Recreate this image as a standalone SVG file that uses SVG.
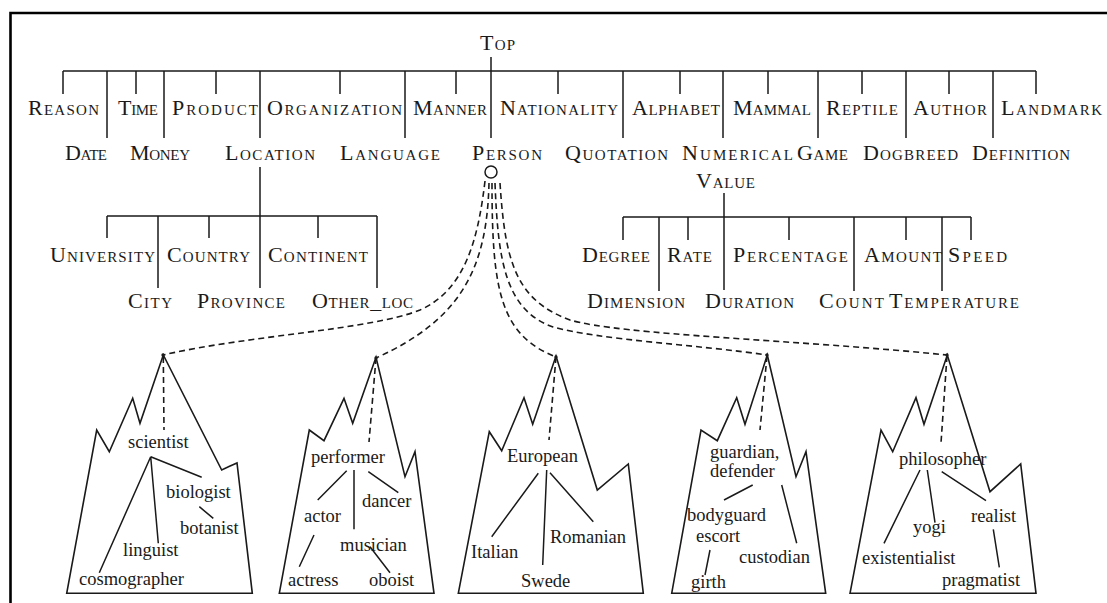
<svg xmlns="http://www.w3.org/2000/svg" width="1107" height="603" viewBox="0 0 1107 603">
<defs>
<style>
.sc{font-family:"Liberation Serif",serif;font-size:22px;font-variant:small-caps;fill:#1a1a1a}
.lc{font-family:"Liberation Serif",serif;font-size:18.5px;fill:#1a1a1a}
.ln{stroke:#1a1a1a;stroke-width:1.5;fill:none}
.dash{stroke:#1a1a1a;stroke-width:1.6;fill:none;stroke-dasharray:6 4}
.mtn{stroke:#1a1a1a;stroke-width:1.6;fill:none;stroke-linejoin:miter}
.frame{stroke:#000;stroke-width:2.6;fill:none}
</style>
<marker id="dot" viewBox="-3 -3 6 6" markerWidth="4" markerHeight="4" markerUnits="userSpaceOnUse"><circle r="2.5" fill="#1a1a1a"/></marker>
</defs>
<rect width="1107" height="603" fill="#fff"/>
<path class="frame" d="M10.5,603 V13 H1107"/>

<g id="connectors">
<path class="ln" d="M491,57 V71 M63,71 H1036
M63,71 V94 M136,71 V94 M216,71 V94 M340,71 V94 M456,71 V94 M558,71 V94 M680,71 V94 M768,71 V94 M862,71 V94 M949,71 V94 M1036,71 V94
M107,71 V138 M164,71 V138 M260,71 V138 M405,71 V138 M491,71 V138 M623,71 V138 M723,71 V138 M818,71 V138 M906,71 V138 M993,71 V138"/>
<path class="ln" d="M260,167 V288 M107,216 H377 M107,216 V238 M209,216 V238 M318,216 V238 M158,216 V288 M377,216 V288"/>
<path class="ln" d="M724,193 V290 M623,217 H971 M623,217 V240 M688,217 V240 M789,217 V240 M906,217 V240 M971,217 V240 M659,217 V291 M854,217 V291 M942,217 V291"/>
<circle class="ln" cx="491" cy="172" r="6"/>
<path class="dash" marker-end="url(#dot)" d="M485,181 C478,240 465,290 420,310 C370,330 250,335 163,355"/>
<path class="dash" marker-end="url(#dot)" d="M489,183 C487,270 460,320 376,358"/>
<path class="dash" marker-end="url(#dot)" d="M492,183 C492,290 500,335 556,357"/>
<path class="dash" marker-end="url(#dot)" d="M495,183 C498,260 505,310 553,327 C600,340 700,345 767,355"/>
<path class="dash" marker-end="url(#dot)" d="M500,183 C505,260 515,300 570,320 C620,335 800,340 947,355"/>
<path class="dash" d="M163.3,357 L164,430 M376,358 L369,442 M556,357 L549,440 M767,356 L760,430 M947,356 L941,443"/>
<path class="ln" d="M150.7,456.7 L201.7,477.3 M150.7,456.7 L158.3,543.3 M150.7,456.7 L99.3,572.7 M199.3,506.7 L213.3,518.3"/>
<path class="ln" d="M346.7,470.7 L317.7,500 M354,470 L354,529.3 M368.3,471.7 L398.3,492.7 M314,535 L299.3,566.7 M370,546.7 L390,572.7"/>
<path class="ln" d="M538.3,473.3 L491.7,536.7 M546.7,470 L542.7,565 M550,472.7 L593.3,521.7"/>
<path class="ln" d="M752.7,485 L724,500 M781.7,485 L796.7,543.3 M710,550 L705,575"/>
<path class="ln" d="M920,470 L884,543.3 M927.3,470 L935,522.7 M941.7,471.7 L986,500.7 M993.3,529.3 L999.3,567.3"/>
</g>

<g id="top"><text class="sc" x="480" y="50" textLength="35" lengthAdjust="spacing">Top</text></g>
<g id="reason"><text class="sc" x="28" y="115" textLength="71" lengthAdjust="spacing">Reason</text></g>
<g id="time"><text class="sc" x="118" y="115" textLength="40" lengthAdjust="spacing">Time</text></g>
<g id="product"><text class="sc" x="172" y="115" textLength="86" lengthAdjust="spacing">Product</text></g>
<g id="organization"><text class="sc" x="267" y="115" textLength="135" lengthAdjust="spacing">Organization</text></g>
<g id="manner"><text class="sc" x="413" y="115" textLength="74" lengthAdjust="spacing">Manner</text></g>
<g id="nationality"><text class="sc" x="500" y="115" textLength="118" lengthAdjust="spacing">Nationality</text></g>
<g id="alphabet"><text class="sc" x="632" y="115" textLength="88" lengthAdjust="spacing">Alphabet</text></g>
<g id="mammal"><text class="sc" x="733" y="115" textLength="78" lengthAdjust="spacing">Mammal</text></g>
<g id="reptile"><text class="sc" x="826" y="115" textLength="72" lengthAdjust="spacing">Reptile</text></g>
<g id="author"><text class="sc" x="913" y="115" textLength="74" lengthAdjust="spacing">Author</text></g>
<g id="landmark"><text class="sc" x="1001" y="115" textLength="101" lengthAdjust="spacing">Landmark</text></g>

<g id="date"><text class="sc" x="65" y="160" textLength="42" lengthAdjust="spacing">Date</text></g>
<g id="money"><text class="sc" x="130" y="160" textLength="60" lengthAdjust="spacing">Money</text></g>
<g id="location"><text class="sc" x="225" y="160" textLength="90" lengthAdjust="spacing">Location</text></g>
<g id="language"><text class="sc" x="340" y="160" textLength="100" lengthAdjust="spacing">Language</text></g>
<g id="person"><text class="sc" x="472" y="160" textLength="70" lengthAdjust="spacing">Person</text></g>
<g id="quotation"><text class="sc" x="565" y="160" textLength="103" lengthAdjust="spacing">Quotation</text></g>
<g id="numerical-value"><text class="sc" x="682" y="160" textLength="111" lengthAdjust="spacing">Numerical</text><text class="sc" x="696" y="188" textLength="59" lengthAdjust="spacing">Value</text></g>
<g id="game"><text class="sc" x="797" y="160" textLength="51" lengthAdjust="spacing">Game</text></g>
<g id="dogbreed"><text class="sc" x="863" y="160" textLength="95" lengthAdjust="spacing">Dogbreed</text></g>
<g id="definition"><text class="sc" x="972" y="160" textLength="98" lengthAdjust="spacing">Definition</text></g>

<g id="university"><text class="sc" x="50" y="262" textLength="105" lengthAdjust="spacing">University</text></g>
<g id="country"><text class="sc" x="167" y="262" textLength="83" lengthAdjust="spacing">Country</text></g>
<g id="continent"><text class="sc" x="268" y="262" textLength="100" lengthAdjust="spacing">Continent</text></g>
<g id="city"><text class="sc" x="128" y="308" textLength="44" lengthAdjust="spacing">City</text></g>
<g id="province"><text class="sc" x="197" y="308" textLength="88" lengthAdjust="spacing">Province</text></g>
<g id="other-loc"><text class="sc" x="312" y="308" textLength="101" lengthAdjust="spacing">Other_loc</text></g>

<g id="degree"><text class="sc" x="582" y="262" textLength="68" lengthAdjust="spacing">Degree</text></g>
<g id="rate"><text class="sc" x="667" y="262" textLength="45" lengthAdjust="spacing">Rate</text></g>
<g id="percentage"><text class="sc" x="733" y="262" textLength="115" lengthAdjust="spacing">Percentage</text></g>
<g id="amount"><text class="sc" x="864" y="262" textLength="78" lengthAdjust="spacing">Amount</text></g>
<g id="speed"><text class="sc" x="948" y="262" textLength="59" lengthAdjust="spacing">Speed</text></g>
<g id="dimension"><text class="sc" x="587" y="308" textLength="98" lengthAdjust="spacing">Dimension</text></g>
<g id="duration"><text class="sc" x="705" y="308" textLength="89" lengthAdjust="spacing">Duration</text></g>
<g id="count"><text class="sc" x="819" y="308" textLength="65" lengthAdjust="spacing">Count</text></g>
<g id="temperature"><text class="sc" x="889" y="308" textLength="130" lengthAdjust="spacing">Temperature</text></g>

<g id="mountain-scientist">
<polygon class="mtn" points="66.7,593.3 96.7,430 109.3,451.7 132.7,398.3 140,423.3 163.3,355 221.7,470 229,466.5 237,463 252.3,593.3"/>
<text class="lc" x="128" y="448">scientist</text>
<text class="lc" x="166" y="498">biologist</text>
<text class="lc" x="180" y="534">botanist</text>
<text class="lc" x="123" y="556">linguist</text>
<text class="lc" x="79" y="585">cosmographer</text>
</g>
<g id="mountain-performer">
<polygon class="mtn" points="279.3,593.3 309.3,430 324,440.7 344,398.3 352.7,423.3 376,357.3 405,476.7 415,451.7 434,593.3"/>
<text class="lc" x="311" y="462.7">performer</text>
<text class="lc" x="362" y="506.7">dancer</text>
<text class="lc" x="304" y="521.7">actor</text>
<text class="lc" x="340" y="551">musician</text>
<text class="lc" x="288" y="586">actress</text>
<text class="lc" x="369" y="586">oboist</text>
</g>
<g id="mountain-european">
<polygon class="mtn" points="458.3,593.3 489.3,431.7 501.7,450.7 524,397.7 532.7,424.3 556,356 597.3,490 628.3,464 643.3,593.3"/>
<text class="lc" x="507" y="461.7">European</text>
<text class="lc" x="471" y="558.3">Italian</text>
<text class="lc" x="550" y="543.3">Romanian</text>
<text class="lc" x="521" y="586.7">Swede</text>
</g>
<g id="mountain-guardian">
<polygon class="mtn" points="671.7,593.3 701,430 717.3,440.7 736.7,397.7 745,424.3 767.3,355 796,476.7 806,451.7 825.7,593.3"/>
<text class="lc" x="710" y="458.3">guardian,</text>
<text class="lc" x="710" y="477.3">defender</text>
<text class="lc" x="687" y="520.7">bodyguard</text>
<text class="lc" x="696" y="542.3">escort</text>
<text class="lc" x="739" y="563.3">custodian</text>
<text class="lc" x="691" y="588.3">girth</text>
</g>
<g id="mountain-philosopher">
<polygon class="mtn" points="850,593.3 881,430 892.7,451.7 916,397.7 924,424.3 947.3,355 990,491.7 1020.7,464 1036,593.3"/>
<text class="lc" x="899" y="465">philosopher</text>
<text class="lc" x="913" y="533">yogi</text>
<text class="lc" x="971" y="521.7">realist</text>
<text class="lc" x="862" y="564">existentialist</text>
<text class="lc" x="942" y="586">pragmatist</text>
</g>
</svg>
